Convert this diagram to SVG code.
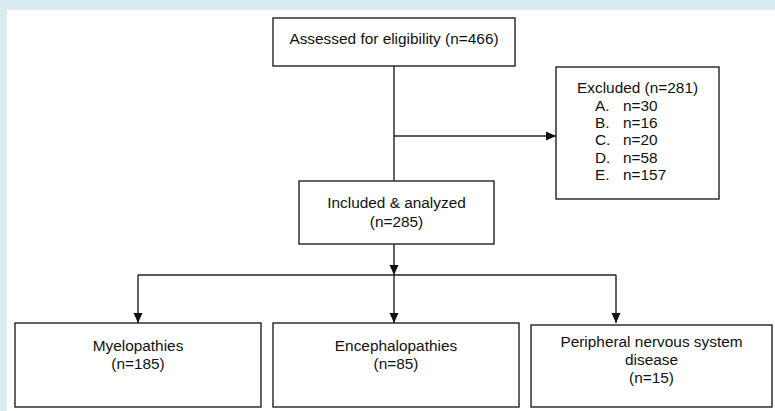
<svg xmlns="http://www.w3.org/2000/svg" width="775" height="411" viewBox="0 0 775 411">
<style>
.box{fill:#fff;stroke:#222;stroke-width:1.4}
.ln{fill:none;stroke:#222;stroke-width:1.4}
text{font-family:"Liberation Sans",Arial,sans-serif;font-size:15.4px;fill:#111}
.c{text-anchor:middle}
</style>
<defs>
<marker id="ah" markerUnits="userSpaceOnUse" markerWidth="10" markerHeight="10" viewBox="0 0 10 10" refX="10" refY="5" orient="auto">
<path d="M0,0.5 L10,5 L0,9.5 Z" fill="#111"/>
</marker>
</defs>
<rect x="0" y="0" width="775" height="411" fill="#d8ecf2"/>
<rect x="7" y="10" width="768" height="401" fill="#fff"/>
<g id="connectors">
<line class="ln" x1="394" y1="66" x2="394" y2="181"/>
<line class="ln" x1="394" y1="136" x2="556" y2="136" marker-end="url(#ah)"/>
<line class="ln" x1="394" y1="244" x2="394" y2="275" marker-end="url(#ah)"/>
<line class="ln" x1="138" y1="275" x2="616" y2="275"/>
<line class="ln" x1="138" y1="275" x2="138" y2="323" marker-end="url(#ah)"/>
<line class="ln" x1="394" y1="275" x2="394" y2="323" marker-end="url(#ah)"/>
<line class="ln" x1="616" y1="275" x2="616" y2="323" marker-end="url(#ah)"/>
</g>
<g id="assessed">
<rect class="box" x="273" y="18" width="242" height="48"/>
<text class="c" x="394" y="44">Assessed for eligibility (n=466)</text>
</g>
<g id="excluded">
<rect class="box" x="556" y="67" width="163" height="132"/>
<text x="577" y="93">Excluded (n=281)</text>
<text x="595" y="111">A.</text><text x="623" y="111">n=30</text>
<text x="595" y="128">B.</text><text x="623" y="128">n=16</text>
<text x="595" y="145">C.</text><text x="623" y="145">n=20</text>
<text x="595" y="163">D.</text><text x="623" y="163">n=58</text>
<text x="595" y="180">E.</text><text x="623" y="180">n=157</text>
</g>
<g id="included">
<rect class="box" x="299" y="181" width="195" height="63"/>
<text class="c" x="396.5" y="208">Included &amp; analyzed</text>
<text class="c" x="396.5" y="227">(n=285)</text>
</g>
<g id="myelopathies">
<rect class="box" x="15" y="323" width="246" height="84"/>
<text class="c" x="138" y="351">Myelopathies</text>
<text class="c" x="138" y="369">(n=185)</text>
</g>
<g id="encephalopathies">
<rect class="box" x="273" y="323" width="246" height="84"/>
<text class="c" x="396" y="351">Encephalopathies</text>
<text class="c" x="396" y="369">(n=85)</text>
</g>
<g id="peripheral">
<rect class="box" x="531" y="325" width="241" height="82"/>
<text class="c" x="651.5" y="347">Peripheral nervous system</text>
<text class="c" x="651.5" y="365">disease</text>
<text class="c" x="651.5" y="383">(n=15)</text>
</g>
</svg>
